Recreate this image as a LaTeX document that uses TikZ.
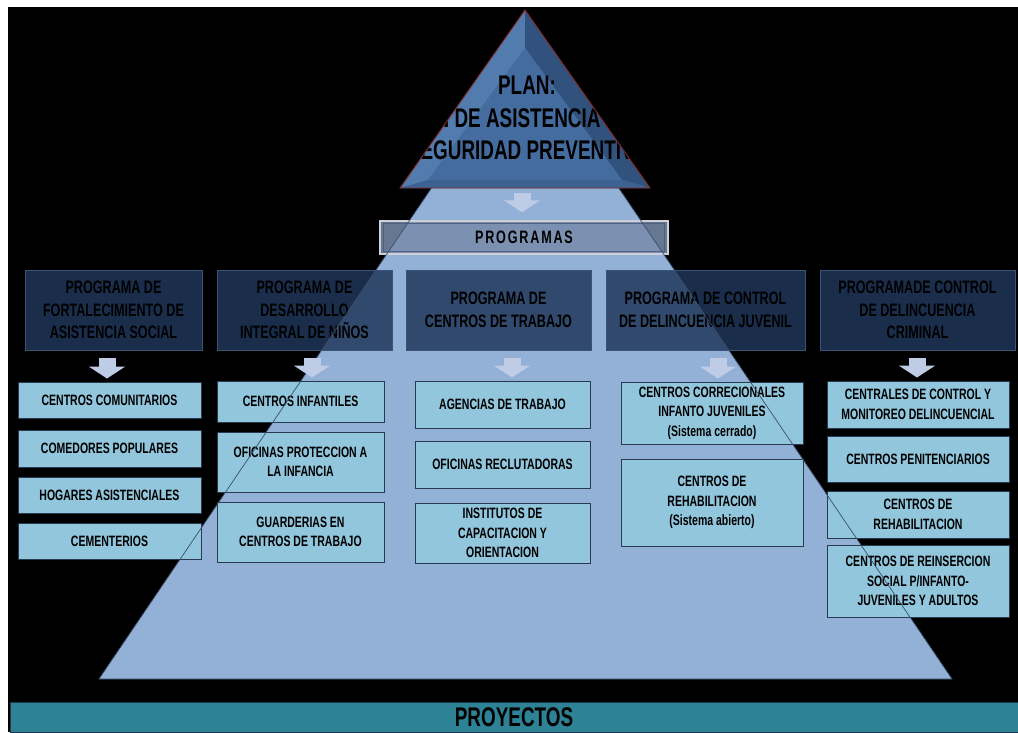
\documentclass[tikz,border=0pt]{standalone}
\usepackage{fontspec}
\newfontfamily\cf[FakeStretch=0.7]{Liberation Sans}
\newfontfamily\cfs[FakeStretch=0.7,LetterSpace=10]{Liberation Sans}
\usetikzlibrary{arrows.meta}
\definecolor{pyr}{RGB}{147,176,214}
\definecolor{pyrline}{RGB}{58,78,106}
\definecolor{progfill}{RGB}{31,55,90}
\definecolor{progborder}{RGB}{58,84,120}
\definecolor{subfill}{RGB}{146,198,220}
\definecolor{subborder}{RGB}{40,58,80}
\definecolor{arrowc}{RGB}{190,204,230}
\definecolor{trimain}{RGB}{68,108,158}
\definecolor{tridark}{RGB}{48,82,124}
\definecolor{trilight}{RGB}{82,124,174}
\definecolor{trimid}{RGB}{60,98,145}
\definecolor{triborder}{RGB}{130,40,40}
\definecolor{barfill}{RGB}{120,140,172}
\definecolor{barout}{RGB}{205,208,215}
\definecolor{barin}{RGB}{80,95,125}
\definecolor{proy}{RGB}{46,130,150}
\definecolor{proyborder}{RGB}{30,55,85}
\tikzset{
  progbox/.style={draw=progborder, line width=0.8pt, fill=progfill, fill opacity=0.85, text opacity=1,
    text=black, align=center, inner sep=2pt,
    font=\cf\bfseries\fontsize{18pt}{22.5pt}\selectfont},
  subbox/.style={draw=subborder, line width=1pt, fill=subfill, text=black, align=center, inner sep=1pt,
    font=\cf\bfseries\fontsize{15pt}{19.5pt}\selectfont},
  blockarrow/.style={draw=arrowc, line width=17pt, -{Triangle[width=36pt,length=12pt]}, shorten >=3pt},
}
\begin{document}
\begin{tikzpicture}[x=1pt,y=-1pt]
\fill[white] (0,0) rectangle (1018,732);
\useasboundingbox (0,0) rectangle (1018,732);
\fill[black] (8,7) rectangle (1018,732);
% big pyramid
\coordinate (apex) at (525,50);
\coordinate (bl) at (99,679);
\coordinate (br) at (952,679);
\fill[pyr] (apex) -- (bl) -- (br) -- cycle;
% programas bar
\node[draw=barout, line width=1.5pt, fill=barfill, fill opacity=0.85, text opacity=1, text=black,
  minimum width=288pt, minimum height=33pt, inner sep=0pt,
  font=\cfs\bfseries\fontsize{18pt}{20pt}\selectfont] (prog) at (524,237.5) {PROGRAMAS};
\draw[barin, line width=0.8pt] ([shift={(4pt,-3pt)}]prog.north west) rectangle ([shift={(-4pt,3pt)}]prog.south east);
% program boxes
\node[progbox, minimum width=177pt, minimum height=80pt] (p1) at (113.5,310) {PROGRAMA DE\\FORTALECIMIENTO DE\\ASISTENCIA SOCIAL};
\node[progbox, minimum width=175pt, minimum height=80pt] (p2) at (304.5,310) {PROGRAMA DE\\DESARROLLO\\INTEGRAL DE NIÑOS};
\node[progbox, minimum width=185pt, minimum height=80pt] (p3) at (498.5,310) {PROGRAMA DE\\CENTROS DE TRABAJO};
\node[progbox, minimum width=199pt, minimum height=80pt] (p4) at (705.5,310) {PROGRAMA DE CONTROL\\DE DELINCUENCIA JUVENIL};
\node[progbox, minimum width=195pt, minimum height=80pt] (p5) at (917.5,310) {PROGRAMADE CONTROL\\DE DELINCUENCIA\\CRIMINAL};
% sub boxes
\node[subbox, minimum width=183pt, minimum height=36pt] (s11) at (109.5,400) {CENTROS COMUNITARIOS};
\node[subbox, minimum width=183pt, minimum height=37pt] (s12) at (109.5,448.5) {COMEDORES POPULARES};
\node[subbox, minimum width=183pt, minimum height=36pt] (s13) at (109.5,495) {HOGARES ASISTENCIALES};
\node[subbox, minimum width=183pt, minimum height=36pt] (s14) at (109.5,541) {CEMENTERIOS};
\node[subbox, minimum width=167pt, minimum height=41pt] (s21) at (300.5,401.5) {CENTROS INFANTILES};
\node[subbox, minimum width=167pt, minimum height=60pt] (s22) at (300.5,462) {OFICINAS PROTECCION A\\LA INFANCIA};
\node[subbox, minimum width=167pt, minimum height=60pt] (s23) at (300.5,532) {GUARDERIAS EN\\CENTROS DE TRABAJO};
\node[subbox, minimum width=175pt, minimum height=47pt] (s31) at (502.5,404.5) {AGENCIAS DE TRABAJO};
\node[subbox, minimum width=175pt, minimum height=47pt] (s32) at (502.5,464.5) {OFICINAS RECLUTADORAS};
\node[subbox, minimum width=175pt, minimum height=60pt] (s33) at (502.5,533) {INSTITUTOS DE\\CAPACITACION Y\\ORIENTACION};
\node[subbox, minimum width=182pt, minimum height=62pt] (s41) at (712,413) {CENTROS CORRECIONALES\\INFANTO JUVENILES\\(Sistema cerrado)};
\node[subbox, minimum width=182pt, minimum height=87pt] (s42) at (712,502.5) {CENTROS DE\\REHABILITACION\\(Sistema abierto)};
\node[subbox, minimum width=182pt, minimum height=47pt] (s51) at (918,404.5) {CENTRALES DE CONTROL Y\\MONITOREO DELINCUENCIAL};
\node[subbox, minimum width=182pt, minimum height=46pt] (s52) at (918,459) {CENTROS PENITENCIARIOS};
\node[subbox, minimum width=182pt, minimum height=47pt] (s53) at (918,514.5) {CENTROS DE\\REHABILITACION};
\node[subbox, minimum width=182pt, minimum height=72pt] (s54) at (918,581) {CENTROS DE REINSERCION\\SOCIAL P/INFANTO-\\JUVENILES Y ADULTOS};
% pyramid outline on top
\draw[pyrline, line width=0.7pt] (apex) -- (bl) -- (br) -- cycle;
% top triangle
\coordinate (tA) at (525,10);
\coordinate (tL) at (400,188);
\coordinate (tR) at (650,188);
\coordinate (ta) at (525,48);
\coordinate (tl) at (428,180);
\coordinate (tr) at (622,180);
\fill[trilight] (tA) -- (tL) -- (tR) -- cycle;
\fill[tridark] (tA) -- (tR) -- (tr) -- (ta) -- cycle;
\fill[trimid] (tL) -- (tR) -- (tr) -- (tl) -- cycle;
\fill[trimain] (ta) -- (tl) -- (tr) -- cycle;
\begin{scope}
\clip (tA) -- (tL) -- (tR) -- cycle;
\node[text=black, align=center, inner sep=0pt, font=\cf\bfseries\fontsize{27pt}{32.5pt}\selectfont] (plan) at (527,118) {PLAN:\\N DE ASISTENCIA Y\\SEGURIDAD PREVENTIVA};
\end{scope}
\draw[triborder, line width=0.9pt] (tA) -- (tL) -- (tR) -- cycle;
% arrows
\coordinate (t0) at (522,193);
\draw[blockarrow, shorten >=8pt] (t0) -- (t0 |- prog.north);
\coordinate (a1) at (107,358);
\coordinate (a2) at (312,358);
\coordinate (a3) at (512,358);
\coordinate (a4) at (718,358);
\coordinate (a5) at (917,358);
\draw[blockarrow] (a1) -- (a1 |- s11.north);
\draw[blockarrow] (a2) -- (a2 |- s21.north);
\draw[blockarrow] (a3) -- (a3 |- s31.north);
\draw[blockarrow] (a4) -- (a4 |- s41.north);
\draw[blockarrow] (a5) -- (a5 |- s51.north);
% proyectos bar
\node[draw=proyborder, line width=1pt, fill=proy, text=black, minimum width=1008pt, minimum height=30pt, inner sep=0pt,
  font=\cf\bfseries\fontsize{27pt}{30pt}\selectfont] (proyectos) at (514,717) {PROYECTOS};
\end{tikzpicture}
\end{document}
